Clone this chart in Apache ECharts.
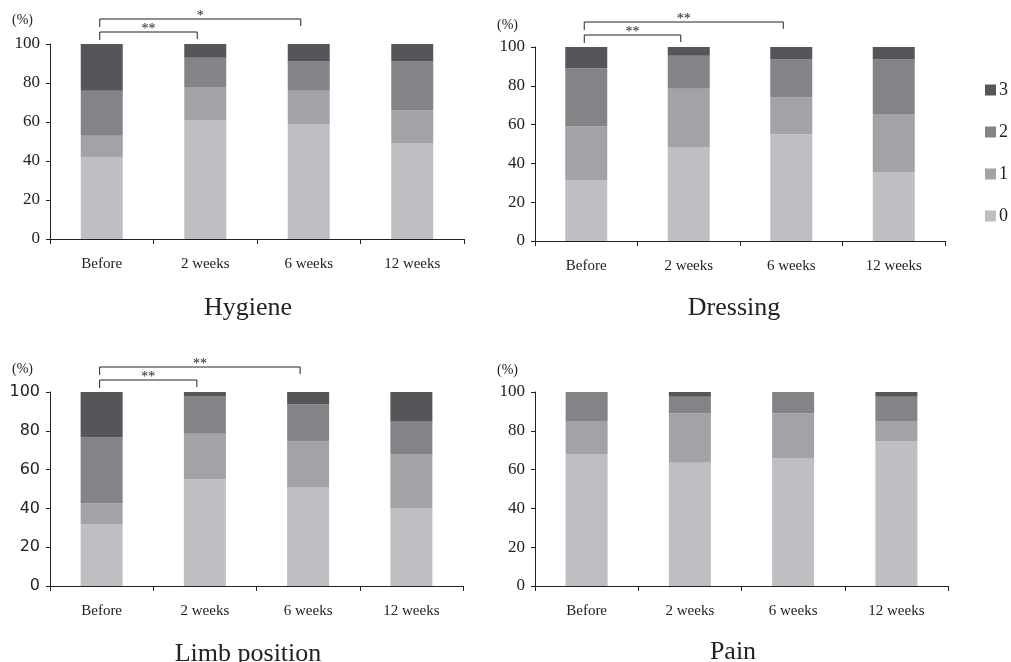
<!DOCTYPE html>
<html>
<head>
<meta charset="utf-8">
<script src="https://cdn.jsdelivr.net/npm/echarts@6/dist/echarts.min.js"></script>
<style>html,body{margin:0;padding:0;background:#fff}#c{width:1011px;height:662px}</style>
</head>
<body>
<div id="c"></div>
<script>
const categories = ['Before', '2 weeks', '6 weeks', '12 weeks'];
const scoreNames = ['0', '1', '2', '3'];
const yTicks = [0, 20, 40, 60, 80, 100];

const hygiene0 = [42, 61, 59, 49];
const hygiene1 = [11, 17, 17, 17];
const hygiene2 = [23, 15, 15, 25];
const hygiene3 = [24, 7, 9, 9];

const dressing0 = [31.5, 48.5, 55, 35.5];
const dressing1 = [27.5, 30, 19, 30];
const dressing2 = [30, 17, 19.5, 28];
const dressing3 = [11, 4.5, 6.5, 6.5];

const limb0 = [32, 55, 51, 40];
const limb1 = [10.5, 23.5, 23.5, 28];
const limb2 = [34, 19.5, 19, 17];
const limb3 = [23.5, 2, 6.5, 15];

const pain0 = [68, 63.5, 66, 74.5];
const pain1 = [17, 25.5, 23, 10.5];
const pain2 = [15, 8.5, 11, 12.5];
const pain3 = [0, 2.5, 0, 2.5];

// significance brackets: [fromCategory, toCategory, level, label]
const hygieneSig = [[0, 1, 1, '**'], [0, 2, 2, '*']];
const dressingSig = [[0, 1, 1, '**'], [0, 2, 2, '**']];
const limbSig = [[0, 1, 1, '**'], [0, 2, 2, '**']];
const painSig = [];

const panelTitles = ['Hygiene', 'Dressing', 'Limb position', 'Pain'];

const colors = ['#bebfc3', '#a2a3a7', '#838488', '#555659'];
const serif = 'Liberation Serif';

const panels = [
  { data: [hygiene0, hygiene1, hygiene2, hygiene3], sig: hygieneSig, grid: { left: 50, top: 44, width: 414, height: 195 }, yFont: serif, nameGap: 24, title: { cx: 243, top: 290 } },
  { data: [dressing0, dressing1, dressing2, dressing3], sig: dressingSig, grid: { left: 535, top: 47, width: 410, height: 194 }, yFont: serif, nameGap: 22, title: { cx: 729, top: 290 } },
  { data: [limb0, limb1, limb2, limb3], sig: limbSig, grid: { left: 50, top: 392, width: 413, height: 194 }, yFont: 'DejaVu Sans', nameGap: 23, title: { cx: 243, top: 636 } },
  { data: [pain0, pain1, pain2, pain3], sig: painSig, grid: { left: 535, top: 392, width: 413, height: 194 }, yFont: serif, nameGap: 22, title: { cx: 728, top: 634 } }
];

const option = {
  animation: false,
  backgroundColor: '#fff',
  title: panels.map((p, i) => ({
    text: panelTitles[i], left: p.title.cx, top: p.title.top, textAlign: 'center',
    textStyle: { fontFamily: serif, fontSize: 26, fontWeight: 'normal', color: '#222' }
  })),
  legend: {
    data: scoreNames.slice().reverse(), orient: 'vertical', left: 980, top: 76,
    itemWidth: 11, itemHeight: 11, itemGap: 24, icon: 'rect',
    textStyle: { fontFamily: serif, fontSize: 18, color: '#222', padding: [0, 0, 0, -2] }
  },
  grid: panels.map(p => Object.assign({ containLabel: false }, p.grid)),
  xAxis: panels.map((p, i) => ({
    type: 'category', gridIndex: i, data: categories,
    axisLine: { lineStyle: { color: '#222', width: 1 } },
    axisTick: { show: true, length: 5, lineStyle: { color: '#222' } },
    axisLabel: { fontFamily: serif, fontSize: 15, color: '#222', margin: 18 }
  })),
  yAxis: panels.map((p, i) => ({
    type: 'value', gridIndex: i, min: yTicks[0], max: yTicks[yTicks.length - 1], interval: yTicks[1] - yTicks[0],
    name: '(%)', nameLocation: 'end', nameGap: p.nameGap,
    nameTextStyle: { fontFamily: serif, fontSize: 14, color: '#222', align: 'right', verticalAlign: 'middle', padding: [0, 17, 0, 0] },
    axisLine: { show: true, lineStyle: { color: '#222', width: 1 } },
    axisTick: { show: true, length: 4, lineStyle: { color: '#222' } },
    splitLine: { show: false },
    axisLabel: { fontFamily: p.yFont, fontSize: p.yFont === serif ? 17 : 16, color: '#222', margin: 10 }
  })),
  series: []
};

panels.forEach((p, i) => {
  p.data.forEach((arr, k) => {
    option.series.push({
      name: scoreNames[k], type: 'bar', stack: 'p' + i, xAxisIndex: i, yAxisIndex: i,
      barWidth: 42, data: arr, itemStyle: { color: colors[k] }
    });
  });
  const sig = p.sig;
  option.series.push({
    type: 'custom', xAxisIndex: i, yAxisIndex: i, silent: true, clip: false, z: 10,
    data: sig.map(s => [s[0], 100]),
    renderItem: function (params, api) {
      const s = sig[params.dataIndex];
      const a = api.coord([s[0], 100]);
      const b = api.coord([s[1], 100]);
      const x0 = a[0] - 2, x1 = b[0] - 8;
      const y = a[1] - (s[2] === 1 ? 12 : 25);
      return {
        type: 'group',
        children: [
          { type: 'polyline', shape: { points: [[x0, y + 8], [x0, y], [x1, y], [x1, y + 7]] }, style: { stroke: '#222', lineWidth: 1, fill: null } },
          { type: 'text', style: { text: s[3], x: (x0 + x1) / 2, y: y + 4, align: 'center', verticalAlign: 'bottom', fontFamily: serif, fontSize: 14, fill: '#222' } }
        ]
      };
    }
  });
});

const chart = echarts.init(document.getElementById('c'), null, { renderer: 'canvas' });
chart.setOption(option);
</script>
</body>
</html>
